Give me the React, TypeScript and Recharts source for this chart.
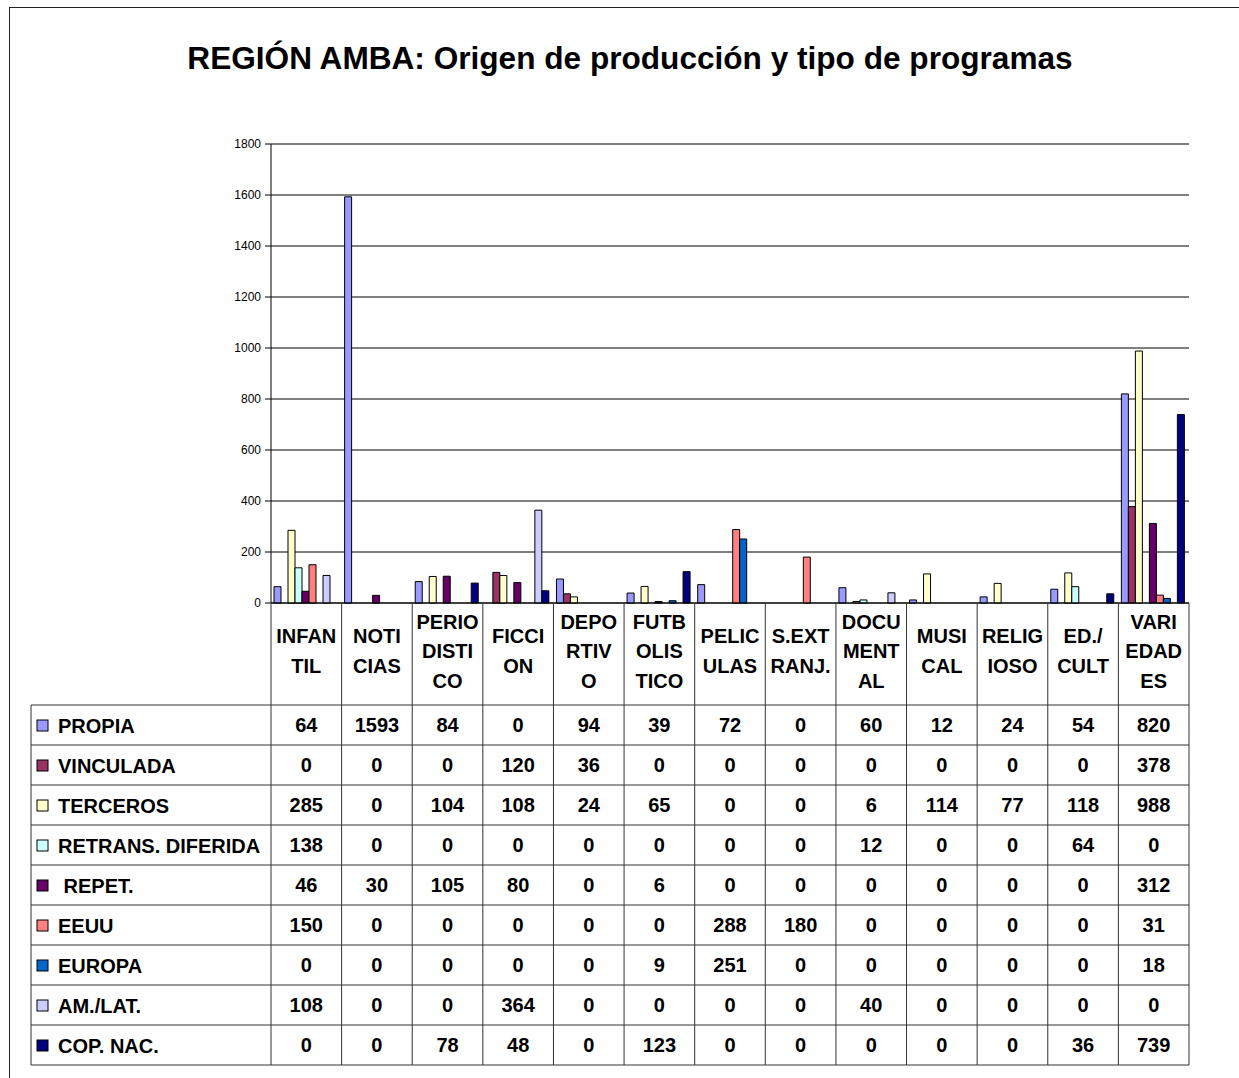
import { BarChart, Bar, XAxis, YAxis, CartesianGrid, ReferenceLine } from "recharts";

const FONT = '"Liberation Sans", Arial, Helvetica, sans-serif';

const categories = [
  "INFANTIL", "NOTICIAS", "PERIODISTICO", "FICCION", "DEPORTIVO", "FUTBOLISTICO", "PELICULAS",
  "S.EXTRANJ.", "DOCUMENTAL", "MUSICAL", "RELIGIOSO", "ED./CULT", "VARIEDADES",
];

// header cells are broken the same odd way as in the original sheet
const categoryLines = [
  ["INFAN", "TIL"], ["NOTI", "CIAS"], ["PERIO", "DISTI", "CO"], ["FICCI", "ON"],
  ["DEPO", "RTIV", "O"], ["FUTB", "OLIS", "TICO"], ["PELIC", "ULAS"], ["S.EXT", "RANJ."],
  ["DOCU", "MENT", "AL"], ["MUSI", "CAL"], ["RELIG", "IOSO"], ["ED./", "CULT"], ["VARI", "EDAD", "ES"],
];

const propia = [64, 1593, 84, 0, 94, 39, 72, 0, 60, 12, 24, 54, 820];
const vinculada = [0, 0, 0, 120, 36, 0, 0, 0, 0, 0, 0, 0, 378];
const terceros = [285, 0, 104, 108, 24, 65, 0, 0, 6, 114, 77, 118, 988];
const retrans = [138, 0, 0, 0, 0, 0, 0, 0, 12, 0, 0, 64, 0];
const repet = [46, 30, 105, 80, 0, 6, 0, 0, 0, 0, 0, 0, 312];
const eeuu = [150, 0, 0, 0, 0, 0, 288, 180, 0, 0, 0, 0, 31];
const europa = [0, 0, 0, 0, 0, 9, 251, 0, 0, 0, 0, 0, 18];
const amLat = [108, 0, 0, 364, 0, 0, 0, 0, 40, 0, 0, 0, 0];
const copNac = [0, 0, 78, 48, 0, 123, 0, 0, 0, 0, 0, 36, 739];

const yTicks = [0, 200, 400, 600, 800, 1000, 1200, 1400, 1600, 1800];

const SERIES = [
  { key: "propia", label: "PROPIA", color: "#9999FF", values: propia },
  { key: "vinculada", label: "VINCULADA", color: "#993366", values: vinculada },
  { key: "terceros", label: "TERCEROS", color: "#FFFFCC", values: terceros },
  { key: "retrans", label: "RETRANS. DIFERIDA", color: "#CCFFFF", values: retrans },
  { key: "repet", label: " REPET.", color: "#660066", values: repet },
  { key: "eeuu", label: "EEUU", color: "#FF8080", values: eeuu },
  { key: "europa", label: "EUROPA", color: "#0066CC", values: europa },
  { key: "amLat", label: "AM./LAT.", color: "#CCCCFF", values: amLat },
  { key: "copNac", label: "COP. NAC.", color: "#000080", values: copNac },
];

const data = categories.map((name, i) => {
  const row: Record<string, string | number> = { name };
  SERIES.forEach((s) => {
    row[s.key] = s.values[i];
  });
  return row;
});

const HEAD_H = 102;
const ROW_H = 40;
const LABEL_LEFT = 31;
const LINE = "#333";

function TableColumn(props: any) {
  const { x, y, payload, width, visibleTicksCount } = props;
  const idx = categories.indexOf(payload.value);
  const half = payload.offset > 0 ? payload.offset : width / visibleTicksCount / 2;
  const left = x - half;
  const right = x + half;
  const rowsTop = y + HEAD_H;
  const bottom = rowsTop + ROW_H * SERIES.length;
  const lines = categoryLines[idx] || [payload.value];
  const first = idx === 0;

  return (
    <g fontFamily={FONT} fontWeight="bold" fontSize={20} fill="#000">
      <line x1={right} y1={y} x2={right} y2={bottom} stroke={LINE} />
      {first && <line x1={left} y1={y} x2={left} y2={bottom} stroke={LINE} />}
      {first && <line x1={LABEL_LEFT} y1={rowsTop} x2={LABEL_LEFT} y2={bottom} stroke={LINE} />}
      {SERIES.map((s, r) => (
        <line
          key={"h" + r}
          x1={first ? LABEL_LEFT : left}
          y1={rowsTop + r * ROW_H}
          x2={right}
          y2={rowsTop + r * ROW_H}
          stroke={LINE}
        />
      ))}
      <line x1={first ? LABEL_LEFT : left} y1={bottom} x2={right} y2={bottom} stroke={LINE} />
      {lines.map((t, k) => (
        <text key={"t" + k} x={x} y={y + 55 + (k - (lines.length - 1) / 2) * 29.5} textAnchor="middle">
          {t}
        </text>
      ))}
      {SERIES.map((s, r) => (
        <text key={"v" + r} x={x} y={rowsTop + r * ROW_H + 27} textAnchor="middle">
          {s.values[idx]}
        </text>
      ))}
      {first &&
        SERIES.map((s, r) => (
          <g key={"l" + r}>
            <rect x={37} y={rowsTop + r * ROW_H + 15} width={11} height={11} fill={s.color} stroke="#000" />
            <text x={58} y={rowsTop + r * ROW_H + 28} textAnchor="start" style={{ whiteSpace: "pre" }}>
              {s.label}
            </text>
          </g>
        ))}
    </g>
  );
}

function App() {
  return (
    <div style={{ position: "absolute", left: 0, top: 0, width: 1239, height: 1078, overflow: "hidden", background: "#fff" }}>
      <svg width={1239} height={1078} style={{ position: "absolute", left: 0, top: 0 }}>
        <rect x={9.5} y={7.5} width={1300} height={1200} fill="none" stroke="#222" />
        <text x={630} y={69} textAnchor="middle" fontFamily={FONT} fontWeight="bold" fontSize={31.6}>
          REGIÓN AMBA: Origen de producción y tipo de programas
        </text>
      </svg>
      <div style={{ position: "absolute", left: 0, top: 0 }}>
        <BarChart
          width={1239}
          height={1078}
          data={data}
          margin={{ top: 144, right: 50, bottom: 0, left: 0 }}
          barGap={0}
          barCategoryGap={3}
        >
          <CartesianGrid vertical={false} stroke="#000" />
          <ReferenceLine y={1800} stroke="#808080" />
          <XAxis
            dataKey="name"
            height={475}
            interval={0}
            tickLine={false}
            tickSize={0}
            tickMargin={0}
            axisLine={{ stroke: "#000" }}
            tick={TableColumn}
          />
          <YAxis
            type="number"
            domain={[0, 1800]}
            ticks={yTicks}
            interval={0}
            width={271}
            tickSize={6}
            tickMargin={4}
            axisLine={{ stroke: "#000" }}
            tickLine={{ stroke: "#000" }}
            tick={{ fontSize: 12, fill: "#000", fontFamily: FONT }}
          />
          <YAxis
            yAxisId="right"
            orientation="right"
            width={0}
            domain={[0, 1800]}
            tick={false}
            tickLine={false}
            axisLine={{ stroke: "#808080" }}
          />
          {SERIES.map((s) => (
            <Bar key={s.key} dataKey={s.key} fill={s.color} stroke="#000" strokeWidth={1} isAnimationActive={false} />
          ))}
        </BarChart>
      </div>
    </div>
  );
}

export default App;
